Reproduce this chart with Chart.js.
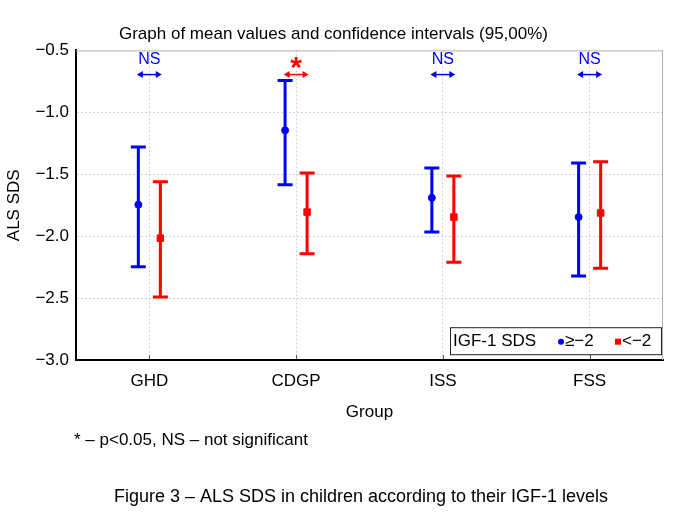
<!DOCTYPE html>
<html>
<head>
<meta charset="utf-8">
<script src="https://cdn.jsdelivr.net/npm/chart.js@4"></script>
<style>
  html, body { margin: 0; padding: 0; background: #fff; }
  #wrap { position: relative; width: 685px; height: 514px; }
</style>
</head>
<body>
<div id="wrap"><canvas id="chart" width="685" height="514"></canvas></div>
<script>
// group names along the x axis
var groups = ['GHD', 'CDGP', 'ISS', 'FSS'];

// IGF-1 SDS >= -2 (blue)
var highMean  = [-1.745, -1.145, -1.69, -1.845];
var highLower = [-2.245, -1.585, -1.965, -2.32];
var highUpper = [-1.28, -0.742, -1.449, -1.409];

// IGF-1 SDS < -2 (red)
var lowMean  = [-2.015, -1.805, -1.845, -1.812];
var lowLower = [-2.49, -2.14, -2.21, -2.258];
var lowUpper = [-1.56, -1.49, -1.514, -1.398];

var significance = ['NS', '*', 'NS', 'NS'];
var yTicks = [-3.0, -2.5, -2.0, -1.5, -1.0, -0.5];

var BLUE = '#0000ff', RED = '#ff0000';
var FONT = '"Liberation Sans", Arial, sans-serif';
var shift = 0.075; // horizontal offset of the two series inside a group

function toPoints(mean, lower, upper, dx) {
  return mean.map(function(m, i) {
    return { x: i + dx, y: m, yMin: lower[i], yMax: upper[i] };
  });
}

var errorBars = {
  id: 'errorBars',
  beforeDatasetsDraw: function(chart) {
    var ctx = chart.ctx, x = chart.scales.x, y = chart.scales.y;
    ctx.save();
    chart.data.datasets.forEach(function(ds) {
      ds.data.forEach(function(p) {
        var px = x.getPixelForValue(p.x);
        var top = y.getPixelForValue(p.yMax), bot = y.getPixelForValue(p.yMin);
        ctx.strokeStyle = ds.borderColor;
        ctx.lineWidth = 3;
        ctx.beginPath();
        ctx.moveTo(px, top); ctx.lineTo(px, bot);
        ctx.moveTo(px - 7.5, top); ctx.lineTo(px + 7.5, top);
        ctx.moveTo(px - 7.5, bot); ctx.lineTo(px + 7.5, bot);
        ctx.stroke();
      });
    });
    ctx.restore();
  }
};

function arrowHead(ctx, x, y, dir) {
  ctx.beginPath();
  ctx.moveTo(x, y);
  ctx.lineTo(x - dir * 6, y - 3.5);
  ctx.lineTo(x - dir * 6, y + 3.5);
  ctx.closePath();
  ctx.fill();
}

var extras = {
  id: 'extras',
  afterDraw: function(chart) {
    var ctx = chart.ctx, x = chart.scales.x, y = chart.scales.y, a = chart.chartArea;
    ctx.save();

    // top and right frame
    ctx.strokeStyle = '#b0b0b0';
    ctx.lineWidth = 1;
    ctx.beginPath();
    ctx.moveTo(a.left, a.top + 0.5); ctx.lineTo(a.right, a.top + 0.5);
    ctx.moveTo(a.right - 0.5, a.top); ctx.lineTo(a.right - 0.5, a.bottom);
    ctx.stroke();

    // small inward ticks on bottom axis
    ctx.strokeStyle = '#555';
    ctx.beginPath();
    groups.forEach(function(g, i) {
      var px = Math.round(x.getPixelForValue(i)) + 0.5;
      ctx.moveTo(px, a.bottom - 1); ctx.lineTo(px, a.bottom - 5);
    });
    ctx.stroke();

    // significance marks
    groups.forEach(function(g, i) {
      var col = significance[i] === '*' ? RED : BLUE;
      var x0 = x.getPixelForValue(i - shift - 0.01), x1 = x.getPixelForValue(i + shift + 0.01);
      var ya = y.getPixelForValue(-0.695);
      ctx.strokeStyle = col; ctx.fillStyle = col; ctx.lineWidth = 1.5;
      ctx.beginPath(); ctx.moveTo(x0 + 3, ya); ctx.lineTo(x1 - 3, ya); ctx.stroke();
      arrowHead(ctx, x0, ya, -1);
      arrowHead(ctx, x1, ya, 1);
      ctx.textAlign = 'center';
      ctx.textBaseline = 'middle';
      var xc = x.getPixelForValue(i);
      if (significance[i] === '*') {
        ctx.font = 'bold 30px ' + FONT;
        ctx.fillText('*', xc, y.getPixelForValue(-0.6) + 6);
      } else {
        ctx.font = '16px ' + FONT;
        ctx.fillText(significance[i], xc, y.getPixelForValue(-0.572));
      }
    });

    // legend box
    var bw = 211, bh = 27;
    var bx = a.right - 2 - bw, by = a.bottom - 6 - bh;
    ctx.fillStyle = '#fff';
    ctx.fillRect(bx, by, bw, bh);
    ctx.strokeStyle = '#222'; ctx.lineWidth = 1;
    ctx.strokeRect(bx + 0.5, by + 0.5, bw, bh);
    ctx.font = '17px ' + FONT;
    ctx.textAlign = 'left'; ctx.textBaseline = 'middle';
    ctx.fillStyle = '#000';
    var cy = by + bh / 2 + 1;
    ctx.fillText('IGF-1 SDS', bx + 3, cy);
    ctx.fillStyle = BLUE;
    ctx.beginPath(); ctx.arc(bx + 111, cy, 3, 0, Math.PI * 2); ctx.fill();
    ctx.fillStyle = '#000';
    ctx.fillText('\u2265\u22122', bx + 115, cy);
    ctx.fillStyle = RED;
    ctx.fillRect(bx + 165, cy - 3, 6, 6);
    ctx.fillStyle = '#000';
    ctx.fillText('<\u22122', bx + 172, cy);

    // footnote and caption
    ctx.font = '17px ' + FONT;
    ctx.textAlign = 'left';
    ctx.fillText('* \u2013 p<0.05, NS \u2013 not significant', 74, 440);
    ctx.font = '18px ' + FONT;
    ctx.textAlign = 'center';
    ctx.fillText('Figure 3 \u2013 ALS SDS in children according to their IGF-1 levels', 361, 497);
    ctx.restore();
  }
};

var config = {
  type: 'scatter',
  data: {
    datasets: [{
      label: '\u2265\u22122',
      data: toPoints(highMean, highLower, highUpper, -shift),
      borderColor: BLUE,
      backgroundColor: BLUE,
      pointStyle: 'circle',
      pointRadius: 3.5,
      pointHoverRadius: 3.5
    }, {
      label: '<\u22122',
      data: toPoints(lowMean, lowLower, lowUpper, shift),
      borderColor: RED,
      backgroundColor: RED,
      pointStyle: 'rect',
      pointRadius: 4.6,
      pointHoverRadius: 4.6
    }]
  },
  options: {
    responsive: false,
    animation: false,
    layout: { padding: { left: 4, right: 22, top: 24, bottom: 91 } },
    plugins: {
      legend: { display: false },
      tooltip: { enabled: false },
      title: {
        display: true,
        text: 'Graph of mean values and confidence intervals (95,00%)',
        color: '#000',
        font: { family: FONT, size: 17, weight: 'normal' },
        padding: { top: 0, bottom: 6 }
      }
    },
    scales: {
      x: {
        type: 'linear',
        min: -0.5,
        max: 3.5,
        afterBuildTicks: function(axis) {
          axis.ticks = groups.map(function(g, i) { return { value: i }; });
        },
        ticks: {
          color: '#000',
          font: { family: FONT, size: 17 },
          padding: 11,
          callback: function(v) { return groups[v]; }
        },
        grid: { color: '#d0d0d0', drawTicks: false },
        border: { color: '#000', width: 2, dash: [2, 2] },
        title: {
          display: true, text: 'Group', color: '#000',
          font: { family: FONT, size: 17 }, padding: { top: 0, bottom: 0 }
        }
      },
      y: {
        min: -3,
        max: -0.5,
        afterBuildTicks: function(axis) {
          axis.ticks = yTicks.map(function(v) { return { value: v }; });
        },
        ticks: {
          color: '#000',
          font: { family: FONT, size: 17 },
          padding: 7,
          callback: function(v) { return (v < 0 ? '\u2212' : '') + Math.abs(v).toFixed(1); }
        },
        grid: {
          color: function(c) { return (c.tick && (c.tick.value === -3 || c.tick.value === -0.5)) ? 'rgba(0,0,0,0)' : '#d0d0d0'; },
          drawTicks: false
        },
        border: { color: '#000', width: 2, dash: [2, 2] },
        title: {
          display: true, text: 'ALS SDS', color: '#000',
          font: { family: FONT, size: 17 }, padding: { top: 0, bottom: 4 }
        }
      }
    }
  },
  plugins: [errorBars, extras]
};

var chart = new Chart(document.getElementById('chart').getContext('2d'), config);
</script>
</body>
</html>
